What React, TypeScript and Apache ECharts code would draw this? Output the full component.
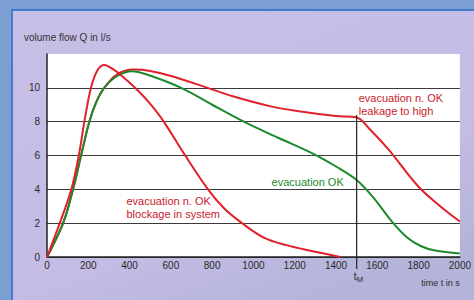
import React, { useEffect, useRef } from "react";
import * as echarts from "echarts";

const xTicks = [0, 200, 400, 600, 800, 1000, 1200, 1400, 1600, 1800, 2000];
const yTicks = [0, 2, 4, 6, 8, 10];

const blockage: [number, number][] = [
  [0, 0], [62, 2], [118, 4], [154, 6], [181, 8], [213, 10], [245, 11.05],
  [277, 11.35], [320, 11.1], [363, 10.7], [444, 9.8], [500, 9.05], [563, 8.05],
  [667, 6.05], [778, 4.03], [860, 2.85], [945, 2], [1050, 1.15], [1160, 0.7],
  [1270, 0.38], [1365, 0.15], [1420, 0],
];

const ok: [number, number][] = [
  [0, 0], [78, 2], [126, 4], [165, 6], [205, 8], [240, 9.2], [277, 10],
  [340, 10.7], [411, 10.98], [480, 10.8], [650, 10], [800, 9], [953, 8],
  [1120, 7.05], [1290, 6.1], [1400, 5.35], [1500, 4.55], [1585, 3.45], [1670, 2.1],
  [1740, 1.2], [1810, 0.65], [1880, 0.38], [2000, 0.2],
];

const leakage: [number, number][] = [
  [0, 0], [78, 2], [126, 4], [165, 6], [205, 8], [240, 9.2], [277, 10],
  [340, 10.8], [420, 11.08], [500, 11.0], [601, 10.7], [778, 10], [900, 9.5],
  [1079, 8.92], [1229, 8.6], [1399, 8.33], [1500, 8.25], [1560, 7.6],
  [1655, 6.35], [1800, 4.15], [1900, 3.05], [2000, 2.1],
];

const tM = 1500;

const RED = "#e0202a";
const GREEN = "#1b8a2c";
const FONT = "Liberation Sans, Arial, sans-serif";

export default function App() {
  const ref = useRef<HTMLDivElement>(null);
  useEffect(() => {
    if (!ref.current) return;
    const chart = echarts.init(ref.current, undefined, { renderer: "svg" });
    const lineSeries = (data: [number, number][], color: string, z: number) => ({
      type: "line", data, smooth: 0.35, showSymbol: false,
      symbol: "none", lineStyle: { color, width: 2 }, z,
    });
    const option: any = {
      animation: false,
      backgroundColor: "#7c9fd3",
      textStyle: { fontFamily: FONT },
      title: {
        text: "volume flow Q in l/s",
        left: 19,
        top: 27,
        textStyle: { fontSize: 10, fontWeight: "normal", color: "#333", fontFamily: FONT },
      },
      grid: {
        left: 47, right: 8, top: 54, bottom: 43,
        show: true, backgroundColor: "#ffffff", borderWidth: 0,
      },
      xAxis: {
        type: "value", min: 0, max: 2000, interval: 200,
        axisLine: { show: true, onZero: false, lineStyle: { color: "#222", width: 1.5 } },
        axisTick: { show: false },
        splitLine: { show: false },
        axisLabel: {
          margin: 3, fontSize: 10, color: "#2a2a2a", fontFamily: FONT,
          formatter: (v: number) => (xTicks.includes(v) ? String(v) : ""),
        },
      },
      yAxis: {
        type: "value", min: 0, max: 12, interval: 2,
        axisLine: { show: true, lineStyle: { color: "#222", width: 1.5 } },
        axisTick: { show: false },
        splitLine: {
          show: true,
          lineStyle: {
            color: ["#3a3a3a", "#3a3a3a", "#3a3a3a", "#3a3a3a", "#3a3a3a", "#3a3a3a", "rgba(0,0,0,0)"],
            width: 1.2,
          },
        },
        axisLabel: {
          margin: 7, fontSize: 10, color: "#2a2a2a", fontFamily: FONT,
          formatter: (v: number) => (yTicks.includes(v) ? String(v) : ""),
        },
      },
      series: [
        lineSeries(leakage, RED, 3),
        lineSeries(ok, GREEN, 4),
        lineSeries(blockage, RED, 5),
      ],
    };
    chart.setOption(option);

    const px = (x: number, y: number) => chart.convertToPixel({ gridIndex: 0 }, [x, y]) as number[];
    const top = px(tM, 8.4);
    const base = px(tM, 0);
    const lblBlock = px(385, 2.9);
    const lblOk = px(1088, 4.45);
    const lblLeak = px(1510, 9.0);
    const axisEnd = px(2000, 0);

    chart.setOption({
      graphic: [
        {
          type: "rect", z: -10, silent: true,
          shape: { x: 12, y: 10, width: 470, height: 300 },
          style: {
            fill: new echarts.graphic.LinearGradient(0, 0, 0.6, 1, [
              { offset: 0, color: "#c8bfe7" },
              { offset: 0.7, color: "#c4bce5" },
              { offset: 1, color: "#b4b4da" },
            ]),
            stroke: "#3f7dcc", lineWidth: 2,
          },
        },
        {
          type: "line", z: 10, silent: true,
          shape: { x1: top[0], y1: top[1], x2: base[0], y2: base[1] + 12 },
          style: { stroke: "#222", lineWidth: 1.2 },
        },
        {
          type: "text", z: 10, silent: true,
          x: base[0] - 3, y: base[1] + 12,
          style: {
            text: "{t|t}{m|M}",
            rich: {
              t: { fontSize: 10, fill: "#2a2a2a", fontFamily: FONT },
              m: { fontSize: 8, fill: "#2a2a2a", fontFamily: FONT, padding: [6, 0, 0, 0] },
            },
          },
        },
        {
          type: "text", z: 10, silent: true,
          x: axisEnd[0], y: axisEnd[1] + 21,
          style: {
            text: "time t in s", fontSize: 9, fill: "#2a2a2a", fontFamily: FONT,
            align: "right",
          },
        },
        {
          type: "text", z: 10, silent: true,
          x: lblBlock[0], y: lblBlock[1],
          style: {
            text: "evacuation n. OK\nblockage in system", fontSize: 11, lineHeight: 13,
            fill: "#c8222c", fontFamily: FONT, verticalAlign: "middle",
          },
        },
        {
          type: "text", z: 10, silent: true,
          x: lblOk[0], y: lblOk[1],
          style: {
            text: "evacuation OK", fontSize: 11, fill: "#1b8a2c", fontFamily: FONT,
            verticalAlign: "middle",
          },
        },
        {
          type: "text", z: 10, silent: true,
          x: lblLeak[0], y: lblLeak[1],
          style: {
            text: "evacuation n. OK\nleakage to high", fontSize: 11, lineHeight: 13,
            fill: "#c8222c", fontFamily: FONT, verticalAlign: "middle",
          },
        },
      ],
    });

    return () => chart.dispose();
  }, []);
  return (
    <div
      ref={ref}
      style={{ position: "absolute", left: 0, top: 0, width: 474, height: 300 }}
    />
  );
}
